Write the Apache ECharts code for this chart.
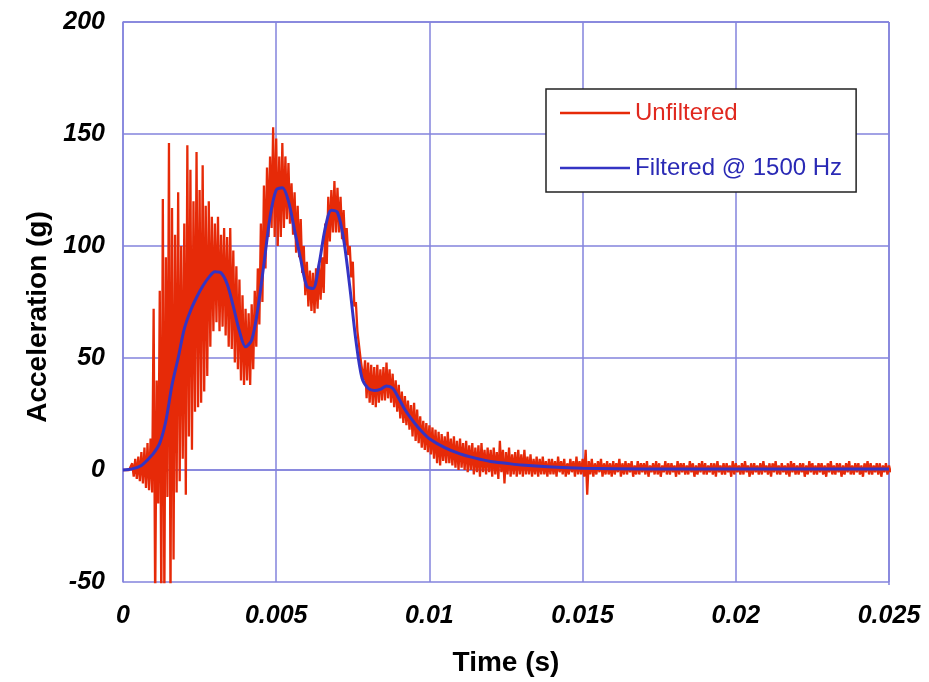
<!DOCTYPE html>
<html>
<head>
<meta charset="utf-8">
<script src="https://cdn.jsdelivr.net/npm/echarts@6/dist/echarts.min.js"></script>
<style>html,body{margin:0;padding:0;background:#fff;}#c{width:929px;height:682px;}</style>
</head>
<body>
<div id="c"></div>
<script>
// Time step of the hand-read unfiltered envelope (s)
const redStep = 0.0001;
// Upper envelope of the unfiltered trace, one value per 0.0001 s (g)
const redHi = [
 0,0,0,3,5,6,8,10,12,14,
 72,40,80,121,95,146,117,105,124,100,
 110,145,134,120,142,125,136,118,120,113,
 110,113,105,108,104,108,98,91,85,78,
 72,70,74,80,90,110,127,135,140,153,
 148,140,146,140,137,128,124,118,112,100,
 93,89,88,90,92,95,110,122,125,129,
 126,122,116,108,100,93,75,62,50,49,
 48,47,46,47,45,46,48,45,43,40,
 38,35,33,31,29,30,27,24,22,21,
 20,19,18,17,16,15,17,14,15,13,
 14,12,13,11,12,10,11,12,9,10,
 9,10,8,13,9,8,10,7,8,9,
 7,9,6,7,5,6,5,6,4,5,
 5,4,6,4,5,3,5,4,6,4,
 5,9,4,5,3,4,5,3,4,3,
 4,3,5,3,4,3,4,2,4,3,
 3,4,2,3,4,3,2,4,3,3,
 2,4,3,3,2,4,3,2,3,4,
 3,2,3,3,4,2,3,3,2,4,
 3,2,3,4,2,3,3,2,3,4,
 2,3,3,4,2,3,2,3,4,3,
 2,3,3,2,4,3,2,3,3,2,
 3,4,2,3,3,2,3,4,2,3,
 3,2,3,4,3,2,3,3,2,3,
 2
];
// Lower envelope of the unfiltered trace, one value per 0.0001 s (g)
const redLo = [
 0,0,0,-3,-4,-5,-6,-8,-9,-10,
 -60,-15,-60,-60,-12,-60,-40,-10,-5,5,
 -11,15,9,26,28,30,35,42,55,62,
 66,62,64,60,55,54,48,45,40,38,
 40,38,45,55,65,75,90,104,108,104,
 100,104,108,112,110,105,97,95,88,78,
 73,71,70,72,76,79,92,102,106,106,
 106,103,100,96,86,73,62,50,40,32,
 30,29,28,30,31,31,32,30,28,26,
 23,21,20,18,15,13,12,10,9,8,
 7,5,3,2,4,3,3,2,1,0,
 1,0,-1,0,-2,-1,-3,-1,-2,-1,
 -3,-2,-4,-1,-6,-2,-3,-2,-3,-2,
 -3,-2,-2,-3,-2,-3,-2,-2,-3,-2,
 -2,-3,-1,-2,-3,-2,-1,-3,-2,-2,
 -3,-11,-2,-3,-2,-1,-3,-2,-2,-3,
 -2,-1,-3,-2,-2,-1,-3,-2,-2,-1,
 -2,-3,-1,-2,-2,-3,-1,-2,-2,-1,
 -3,-2,-1,-2,-2,-1,-3,-2,-1,-2,
 -2,-1,-2,-3,-1,-2,-2,-1,-3,-2,
 -1,-2,-2,-1,-3,-2,-1,-2,-2,-1,
 -2,-3,-1,-2,-2,-1,-2,-3,-1,-2,
 -2,-1,-3,-2,-1,-2,-2,-1,-2,-3,
 -1,-2,-2,-1,-3,-2,-1,-2,-2,-1,
 -2,-3,-1,-2,-2,-1,-2,-3,-1,-2,
 -1
];
// Filtered @ 1500 Hz curve: time (s) and acceleration (g)
const blueT = [0,0.0003,0.0006,0.0008,0.001,0.0012,0.0014,0.0016,0.0018,0.002,0.0022,0.0024,0.0026,0.0028,0.003,0.0032,0.0034,0.0036,0.0038,0.004,0.0042,0.0044,0.0046,0.0048,0.005,0.0052,0.0054,0.0056,0.0058,0.006,0.0062,0.0064,0.0066,0.0068,0.007,0.0072,0.0074,0.0076,0.0078,0.008,0.0082,0.0084,0.0086,0.0088,0.009,0.0092,0.0094,0.0096,0.0098,0.01,0.0105,0.011,0.0115,0.012,0.0125,0.013,0.014,0.015,0.017,0.02,0.025];
const blueV = [0,0.5,2,4.5,7.5,12,22,38,50,63,71,77,82,86,88.5,88,83,73,62,55,58,72,92,113,125,126,120,107,94,82,81,92,108,116,115,103,82,58,41,36.5,35.5,36,37.5,36.5,32,27,23,19.5,16.5,14,10,7.2,5.3,3.8,3,2.2,1.3,0.8,0.5,0.4,0.4];
const xTicks = ['0','0.005','0.01','0.015','0.02','0.025'];
const yTicks = ['-50','0','50','100','150','200'];
const seriesNames = ['Unfiltered','Filtered @ 1500 Hz'];

const redData = [];
for (let i = 0; i < redHi.length; i++) {
  redData.push([i * redStep, redHi[i]]);
  if (i < redLo.length) redData.push([i * redStep + redStep / 2, redLo[i]]);
}
const blueData = blueT.map((t, i) => [t, blueV[i]]);

const gridColor = '#8383dc';
const redColor = '#e62a08';
const blueColor = '#3434c4';
const tickFont = {fontFamily: 'Liberation Sans', fontWeight: 'bold', fontStyle: 'italic', fontSize: 25, color: '#000'};
const chart = echarts.init(document.getElementById('c'), null, {renderer: 'canvas'});
chart.setOption({
  animation: false,
  backgroundColor: '#fff',
  grid: {left: 123, right: 40, top: 22, bottom: 97, containLabel: false},
  xAxis: {
    type: 'value', min: 0, max: 0.025, interval: 0.005,
    name: 'Time (s)', nameLocation: 'middle', nameGap: 67,
    nameTextStyle: {fontFamily: 'Liberation Sans', fontWeight: 'bold', fontSize: 28, color: '#000'},
    axisLine: {show: true, lineStyle: {color: gridColor, width: 1.5}},
    axisTick: {show: false},
    splitLine: {show: true, lineStyle: {color: gridColor, width: 1.5}},
    axisLabel: Object.assign({margin: 22, formatter: v => xTicks[Math.round(v / 0.005)]}, tickFont)
  },
  yAxis: {
    type: 'value', min: -50, max: 200, interval: 50,
    name: 'Acceleration (g)', nameLocation: 'middle', nameGap: 68,
    nameTextStyle: {fontFamily: 'Liberation Sans', fontWeight: 'bold', fontSize: 28, color: '#000', padding: [0, 30, 0, 0]},
    axisLine: {show: true, lineStyle: {color: gridColor, width: 1.5}},
    axisTick: {show: false},
    splitLine: {show: true, lineStyle: {color: gridColor, width: 1.5}},
    axisLabel: Object.assign({margin: 18, formatter: v => yTicks[Math.round((v + 50) / 50)]}, tickFont)
  },
  graphic: [
    {type: 'rect', shape: {x: 889, y: 22, width: 0, height: 563}, style: {stroke: gridColor, lineWidth: 1.5}, silent: true},
    {type: 'rect', shape: {x: 123, y: 22, width: 766, height: 0}, style: {stroke: gridColor, lineWidth: 1.5}, silent: true}
  ],
  legend: {
    orient: 'vertical', left: 546, top: 89,
    padding: [12, 14, 12, 14],
    itemWidth: 70, itemHeight: 2.5, itemGap: 31,
    backgroundColor: '#fff', borderColor: '#222', borderWidth: 1.5,
    textStyle: {fontFamily: 'Liberation Sans', fontSize: 24, lineHeight: 24},
    data: [
      {name: seriesNames[0], icon: 'rect', itemStyle: {color: redColor}, textStyle: {color: '#e0281e'}},
      {name: seriesNames[1], icon: 'rect', itemStyle: {color: blueColor}, textStyle: {color: '#2a2ab5'}}
    ]
  },
  series: [
    {
      name: seriesNames[0], type: 'line', data: redData, symbol: 'none', z: 2,
      lineStyle: {color: redColor, width: 2.3}, itemStyle: {color: redColor}
    },
    {
      name: seriesNames[1], type: 'line', data: blueData, symbol: 'none', smooth: 0.3, z: 3,
      lineStyle: {color: blueColor, width: 3}, itemStyle: {color: blueColor}
    }
  ]
});
</script>
</body>
</html>
